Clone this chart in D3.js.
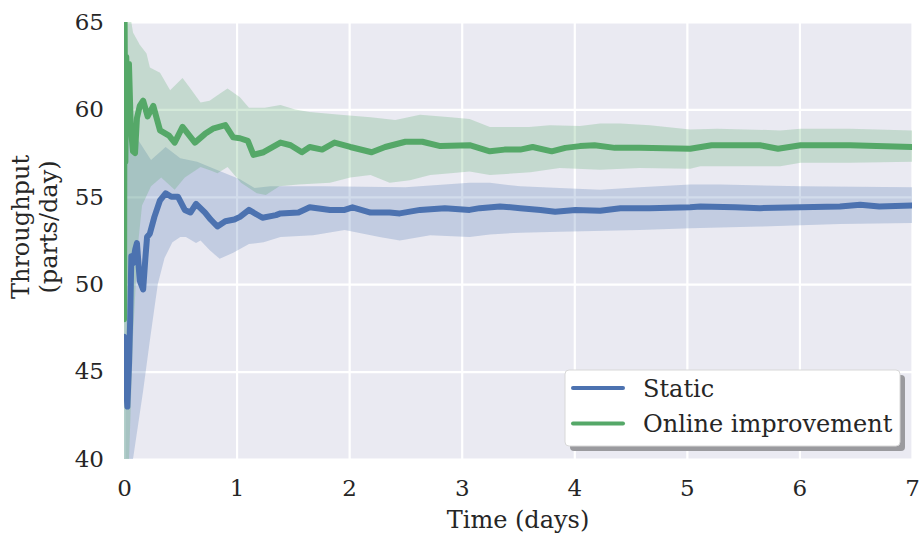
<!DOCTYPE html>
<html>
<head>
<meta charset="utf-8">
<script src="https://cdn.jsdelivr.net/npm/d3@7"></script>
<style>
  html, body { margin: 0; padding: 0; background: #ffffff; }
  svg { display: block; }
  text { font-family: "DejaVu Serif", serif; fill: #262626; }
</style>
</head>
<body>
<svg id="chart" width="922" height="538"></svg>
<script>
// Throughput over time: rolling mean with confidence band for each policy.
const xTicks = [0, 1, 2, 3, 4, 5, 6, 7];
const yTicks = [40, 45, 50, 55, 60, 65];
const seriesNames = ["Static", "Online improvement"];
const seriesColors = ["#4C72B0", "#55A868"];

// Static policy: mean
const staticMeanT = [0, 0.006, 0.015, 0.03, 0.045, 0.055, 0.065, 0.08, 0.10, 0.115, 0.14, 0.17, 0.19, 0.205, 0.23, 0.27, 0.32, 0.37, 0.42, 0.48, 0.54, 0.59, 0.64, 0.72, 0.77, 0.83, 0.90, 0.98, 1.03, 1.11, 1.23, 1.35, 1.39, 1.55, 1.65, 1.83, 1.96, 2.03, 2.19, 2.36, 2.45, 2.63, 2.85, 3.07, 3.16, 3.34, 3.52, 3.70, 3.83, 4.01, 4.23, 4.41, 4.67, 5.03, 5.12, 5.43, 5.65, 6.01, 6.36, 6.54, 6.71, 7.0];
const staticMeanV = [47.0, 46.5, 44.5, 43.0, 45.5, 48.0, 51.6, 51.2, 52.0, 52.35, 50.2, 49.7, 51.5, 52.7, 52.9, 53.85, 54.8, 55.2, 55.0, 55.0, 54.25, 54.1, 54.6, 54.1, 53.7, 53.3, 53.6, 53.7, 53.85, 54.25, 53.8, 53.95, 54.05, 54.1, 54.4, 54.25, 54.25, 54.4, 54.1, 54.1, 54.05, 54.25, 54.35, 54.25, 54.35, 54.45, 54.35, 54.25, 54.15, 54.25, 54.2, 54.35, 54.35, 54.4, 54.45, 54.4, 54.35, 54.4, 54.45, 54.55, 54.45, 54.5];
// Static policy: band upper edge
const staticHighT = [0, 0.05, 0.10, 0.24, 0.37, 0.50, 0.65, 0.80, 1.03, 1.16, 1.30, 1.75, 2.50, 3.07, 3.25, 3.52, 3.87, 4.23, 4.58, 5.03, 5.30, 6.01, 7.0];
const staticHighV = [63.0, 60.0, 58.5, 57.1, 57.85, 57.2, 57.0, 56.6, 56.0, 55.5, 55.6, 55.6, 55.55, 55.8, 55.8, 55.6, 55.5, 55.4, 55.55, 55.7, 55.7, 55.6, 55.55];
// Static policy: band lower edge
const staticLowT = [0, 0.08, 0.17, 0.23, 0.30, 0.36, 0.43, 0.50, 0.55, 0.64, 0.68, 0.76, 0.85, 0.97, 1.11, 1.24, 1.39, 1.68, 1.96, 2.27, 2.45, 2.72, 3.07, 3.25, 3.52, 3.87, 4.58, 5.03, 5.65, 6.36, 7.0];
const staticLowV = [40.0, 40.0, 43.9, 46.8, 50.0, 51.5, 52.4, 52.7, 52.7, 52.35, 52.5, 51.95, 51.45, 51.8, 52.3, 52.4, 52.7, 52.8, 53.1, 52.7, 52.5, 52.8, 52.7, 52.85, 52.95, 53.0, 53.1, 53.2, 53.3, 53.45, 53.5];

// Online improvement: mean
const onlineMeanT = [0, 0.005, 0.012, 0.020, 0.030, 0.044, 0.060, 0.080, 0.098, 0.115, 0.14, 0.17, 0.21, 0.26, 0.32, 0.40, 0.45, 0.52, 0.63, 0.72, 0.79, 0.90, 0.97, 1.03, 1.10, 1.15, 1.24, 1.39, 1.48, 1.58, 1.65, 1.76, 1.87, 2.01, 2.20, 2.32, 2.50, 2.65, 2.81, 3.07, 3.25, 3.38, 3.52, 3.63, 3.80, 3.92, 4.05, 4.18, 4.36, 4.58, 5.03, 5.22, 5.65, 5.81, 6.01, 6.45, 7.0];
const onlineMeanV = [48.0, 65.5, 57.0, 63.0, 61.0, 62.6, 59.0, 57.6, 57.5, 59.5, 60.2, 60.5, 59.6, 60.2, 58.8, 58.5, 58.1, 59.0, 58.1, 58.6, 58.9, 59.1, 58.4, 58.35, 58.2, 57.4, 57.55, 58.1, 57.95, 57.55, 57.85, 57.7, 58.1, 57.85, 57.55, 57.85, 58.15, 58.15, 57.9, 57.95, 57.6, 57.7, 57.7, 57.85, 57.6, 57.8, 57.9, 57.95, 57.8, 57.8, 57.75, 57.95, 57.95, 57.75, 57.95, 57.95, 57.85];
// Online improvement: band upper edge
const onlineHighT = [0, 0.06, 0.08, 0.14, 0.20, 0.23, 0.32, 0.41, 0.52, 0.59, 0.68, 0.76, 0.85, 0.92, 1.03, 1.11, 1.25, 1.39, 1.52, 1.65, 1.92, 2.19, 2.41, 2.63, 2.90, 3.07, 3.25, 3.60, 3.78, 4.05, 4.23, 4.41, 4.67, 5.03, 5.27, 5.83, 6.01, 6.45, 7.0];
const onlineHighV = [66.0, 65.2, 64.4, 63.7, 63.2, 62.4, 62.1, 61.1, 61.8, 61.2, 60.4, 60.5, 60.9, 61.2, 60.7, 60.1, 60.1, 60.25, 60.0, 59.85, 59.7, 59.55, 59.4, 59.7, 59.55, 59.45, 59.0, 59.0, 59.1, 59.05, 59.2, 59.2, 59.1, 58.85, 58.9, 58.8, 58.9, 58.9, 58.8];
// Online improvement: band lower edge
const onlineLowT = [0, 0.045, 0.08, 0.12, 0.16, 0.24, 0.33, 0.45, 0.54, 0.68, 0.77, 0.83, 0.92, 1.04, 1.18, 1.26, 1.38, 1.55, 1.83, 2.01, 2.19, 2.36, 2.54, 2.72, 2.90, 3.07, 3.25, 3.61, 3.87, 4.23, 4.58, 5.03, 5.12, 5.83, 6.01, 6.45, 7.0];
const onlineLowV = [40.0, 40.0, 47.0, 52.0, 54.5, 55.6, 56.1, 55.4, 56.1, 56.7, 56.5, 56.35, 56.7, 55.8, 55.2, 55.1, 55.6, 55.7, 55.8, 56.1, 56.25, 55.8, 55.95, 56.25, 56.35, 56.45, 56.25, 56.4, 56.65, 56.55, 56.65, 56.6, 56.75, 56.75, 56.95, 56.95, 57.0];

const svg = d3.select("#chart");
const plot = { left: 124, right: 912, top: 22, bottom: 459 };
const tickFont = 23;
const labelFont = 24;

const x = d3.scaleLinear().domain([0, 7]).range([plot.left, plot.right]);
const y = d3.scaleLinear().domain([40, 65]).range([plot.bottom, plot.top]);

// Axes background
svg.append("rect")
  .attr("x", plot.left).attr("y", plot.top)
  .attr("width", plot.right - plot.left).attr("height", plot.bottom - plot.top)
  .attr("fill", "#EAEAF2");

// White grid lines built from the axis generators
svg.append("g")
  .attr("transform", `translate(0,${plot.bottom})`)
  .call(d3.axisBottom(x).tickValues(xTicks).tickSize(-(plot.bottom - plot.top)).tickFormat(""))
  .call(g => g.select(".domain").remove())
  .call(g => g.selectAll("line").attr("stroke", "#ffffff").attr("stroke-width", 2.2));
svg.append("g")
  .attr("transform", `translate(${plot.left},0)`)
  .call(d3.axisLeft(y).tickValues(yTicks).tickSize(-(plot.right - plot.left)).tickFormat(""))
  .call(g => g.select(".domain").remove())
  .call(g => g.selectAll("line").attr("stroke", "#ffffff").attr("stroke-width", 2.2));

// Tick labels
svg.append("g")
  .attr("transform", `translate(0,${plot.bottom})`)
  .call(d3.axisBottom(x).tickValues(xTicks).tickSize(0).tickPadding(21).tickFormat(d3.format("d")))
  .call(g => g.select(".domain").remove())
  .call(g => g.selectAll("text").attr("font-size", tickFont).attr("font-family", "DejaVu Serif").attr("fill", "#262626"));
svg.append("g")
  .attr("transform", `translate(${plot.left},0)`)
  .call(d3.axisLeft(y).tickValues(yTicks).tickSize(0).tickPadding(20).tickFormat(d3.format("d")))
  .call(g => g.select(".domain").remove())
  .call(g => g.selectAll("text").attr("font-size", tickFont).attr("font-family", "DejaVu Serif").attr("fill", "#262626"));

// Axis titles
svg.append("text")
  .attr("x", 518).attr("y", 528)
  .attr("text-anchor", "middle").attr("font-size", labelFont)
  .text("Time (days)");
const yTitle = svg.append("text")
  .attr("transform", `translate(0,227) rotate(-90)`)
  .attr("text-anchor", "middle").attr("font-size", labelFont);
yTitle.append("tspan").attr("x", 0).attr("y", 29).text("Throughput");
yTitle.append("tspan").attr("x", 0).attr("y", 57).text("(parts/day)");

// Clip marks to the axes
svg.append("clipPath").attr("id", "plot-clip")
  .append("rect")
  .attr("x", plot.left).attr("y", plot.top)
  .attr("width", plot.right - plot.left).attr("height", plot.bottom - plot.top);
const marks = svg.append("g").attr("clip-path", "url(#plot-clip)");

const pts = (ts, vs) => ts.map((t, i) => [t, vs[i]]);
const line = d3.line().x(d => x(d[0])).y(d => y(d[1]));

const series = [
  { mean: pts(staticMeanT, staticMeanV), high: pts(staticHighT, staticHighV), low: pts(staticLowT, staticLowV) },
  { mean: pts(onlineMeanT, onlineMeanV), high: pts(onlineHighT, onlineHighV), low: pts(onlineLowT, onlineLowV) }
];

series.forEach((s, i) => {
  // confidence band: upper edge forward, lower edge back
  const ring = s.high.concat(s.low.slice().reverse());
  marks.append("path")
    .attr("d", line(ring) + "Z")
    .attr("fill", seriesColors[i]).attr("fill-opacity", 0.25).attr("stroke", "none");
});
series.forEach((s, i) => {
  marks.append("path")
    .attr("d", line(s.mean))
    .attr("fill", "none").attr("stroke", seriesColors[i])
    .attr("stroke-width", 6).attr("stroke-linejoin", "round").attr("stroke-linecap", "round");
});

// Legend
const lg = { x: 565, y: 370, w: 335, h: 76 };
svg.append("rect")
  .attr("x", lg.x + 5).attr("y", lg.y + 5).attr("width", lg.w).attr("height", lg.h)
  .attr("rx", 4).attr("fill", "#9A9A9E");
svg.append("rect")
  .attr("x", lg.x).attr("y", lg.y).attr("width", lg.w).attr("height", lg.h)
  .attr("rx", 4).attr("fill", "#ffffff").attr("stroke", "#d8d8d8").attr("stroke-width", 1);
seriesNames.forEach((name, i) => {
  const cy = lg.y + 18 + i * 35.5;
  svg.append("line")
    .attr("x1", lg.x + 8).attr("x2", lg.x + 58).attr("y1", cy).attr("y2", cy)
    .attr("stroke", seriesColors[i]).attr("stroke-width", 4).attr("stroke-linecap", "round");
  svg.append("text")
    .attr("x", lg.x + 78).attr("y", cy + 8.5)
    .attr("font-size", labelFont)
    .text(name);
});
</script>
</body>
</html>
